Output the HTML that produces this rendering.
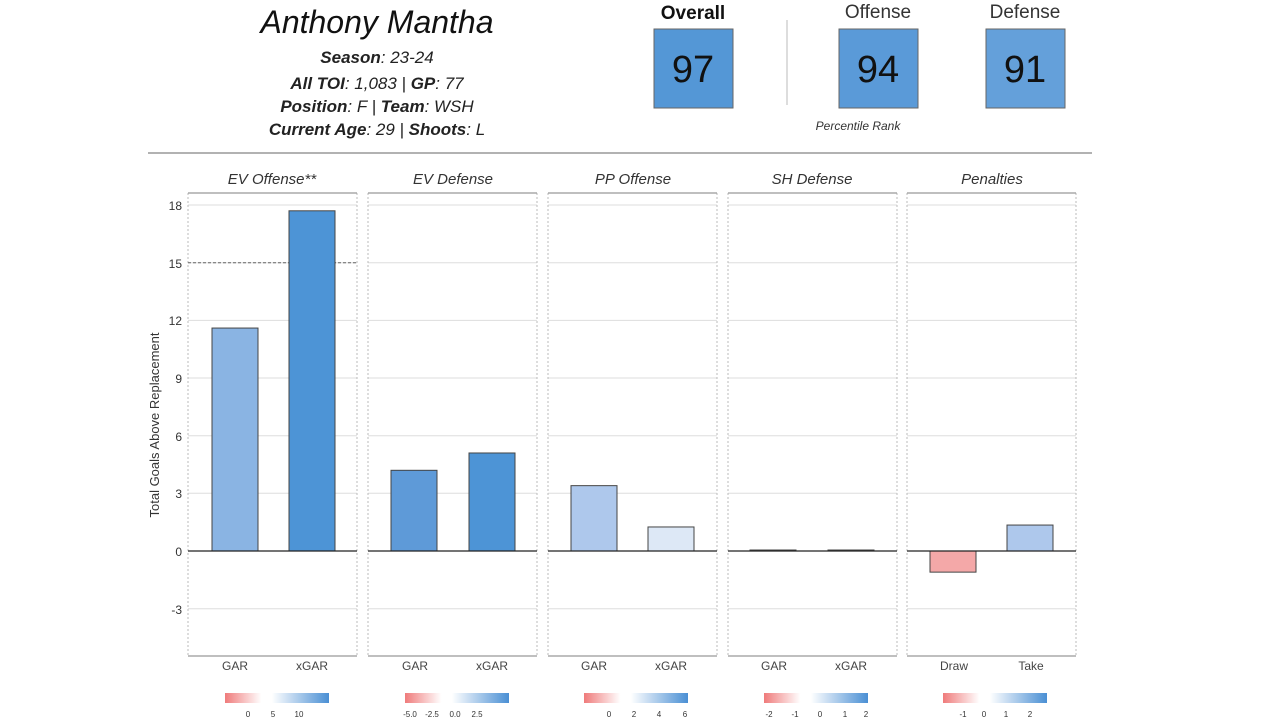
<!DOCTYPE html>
<html><head><meta charset="utf-8"><style>
body{margin:0;background:#fff;width:1280px;height:720px;overflow:hidden;font-family:"Liberation Sans",sans-serif}
</style></head><body>
<svg width="1280" height="720" xmlns="http://www.w3.org/2000/svg" font-family="Liberation Sans, sans-serif">
<defs>
<linearGradient id="g" x1="0" x2="1"><stop offset="0" stop-color="#ef7b7b"/><stop offset="0.35" stop-color="#fff"/><stop offset="0.45" stop-color="#fff"/><stop offset="1" stop-color="#4a8fd4"/></linearGradient>
<g id="pn">
<path d="M0 608.7H169M0 493.3H169M0 435.7H169M0 378H169M0 320.4H169M0 262.7H169M0 205H169" stroke="#ddd" stroke-width="1" fill="none"/>
<path d="M0 193V656M169 193V656" stroke="#bbb" stroke-dasharray="2,2" fill="none"/>
<path d="M0 193H169M0 656H169" stroke="#999" stroke-width="1.2" fill="none"/>
</g>
</defs>
<text x="377" y="33" text-anchor="middle" font-size="32" font-style="italic" fill="#111">Anthony Mantha</text>
<g font-size="17" font-style="italic" text-anchor="middle" fill="#222">
<text x="377" y="63"><tspan font-weight="bold">Season</tspan>: 23-24</text>
<text x="377" y="89"><tspan font-weight="bold">All TOI</tspan>: 1,083 | <tspan font-weight="bold">GP</tspan>: 77</text>
<text x="377" y="112"><tspan font-weight="bold">Position</tspan>: F | <tspan font-weight="bold">Team</tspan>: WSH</text>
<text x="377" y="135"><tspan font-weight="bold">Current Age</tspan>: 29 | <tspan font-weight="bold">Shoots</tspan>: L</text>
</g>
<text x="693" y="19" text-anchor="middle" font-size="19" font-weight="bold" fill="#111">Overall</text>
<text x="878" y="18" text-anchor="middle" font-size="19" fill="#333">Offense</text>
<text x="1025" y="18" text-anchor="middle" font-size="19" fill="#333">Defense</text>
<rect x="654" y="29" width="79" height="79" fill="#5497d6" stroke="#666"/>
<rect x="839" y="29" width="79" height="79" fill="#5a9ad8" stroke="#666"/>
<rect x="986" y="29" width="79" height="79" fill="#64a0da" stroke="#666"/>
<g font-size="38" text-anchor="middle" fill="#111">
<text x="693" y="82">97</text><text x="878" y="82">94</text><text x="1025" y="82">91</text></g>
<line x1="787" y1="20" x2="787" y2="105" stroke="#bbb"/>
<text x="858" y="130" text-anchor="middle" font-size="12" font-style="italic" fill="#333">Percentile Rank</text>
<line x1="148" y1="153" x2="1092" y2="153" stroke="#999" stroke-width="1.5"/>
<text transform="translate(159,425) rotate(-90)" text-anchor="middle" font-size="13" fill="#333">Total Goals Above Replacement</text>
<g font-size="12" fill="#333" text-anchor="end">
<text x="182" y="210">18</text><text x="182" y="268">15</text><text x="182" y="325">12</text><text x="182" y="383">9</text><text x="182" y="441">6</text><text x="182" y="498">3</text><text x="182" y="556">0</text><text x="182" y="614">-3</text></g>

<use href="#pn" x="188"/><use href="#pn" x="368"/><use href="#pn" x="548"/><use href="#pn" x="728"/><use href="#pn" x="907"/>
<line x1="188" x2="357" y1="262.7" y2="262.7" stroke="#666" stroke-dasharray="3,2"/>

<g font-size="15" font-style="italic" fill="#333" text-anchor="middle">
<text x="272" y="184">EV Offense**</text><text x="453" y="184">EV Defense</text><text x="633" y="184">PP Offense</text><text x="812" y="184">SH Defense</text><text x="992" y="184">Penalties</text></g>
<g font-size="12" fill="#444" text-anchor="middle">
<text x="235" y="670">GAR</text><text x="312" y="670">xGAR</text>
<text x="415" y="670">GAR</text><text x="492" y="670">xGAR</text>
<text x="594" y="670">GAR</text><text x="671" y="670">xGAR</text>
<text x="774" y="670">GAR</text><text x="851" y="670">xGAR</text>
<text x="954" y="670">Draw</text><text x="1031" y="670">Take</text></g>

<g stroke="#444" stroke-width="1">
<rect x="212" y="328.05" width="46" height="222.95" fill="#8ab4e3"/>
<rect x="289" y="210.8" width="46" height="340.2" fill="#4d94d6"/>
<rect x="391" y="470.3" width="46" height="80.7" fill="#5e9ad8"/>
<rect x="469" y="452.98" width="46" height="98.02" fill="#4d94d6"/>
<rect x="571" y="485.65" width="46" height="65.35" fill="#aec8ec"/>
<rect x="648" y="526.97" width="46" height="24.03" fill="#dde8f6"/>
<rect x="750" y="550" width="46" height="1" fill="#ccc"/>
<rect x="828" y="550" width="46" height="1" fill="#ccc"/>
<rect x="930" y="551" width="46" height="21.14" fill="#f4a8a8"/>
<rect x="1007" y="525.05" width="46" height="25.95" fill="#aec8ec"/>
</g>
<path d="M188 551H357M368 551H537M548 551H717M728 551H897M907 551H1076" stroke="#222" stroke-width="1.3"/>

<rect x="225" y="693" width="104" height="10" fill="url(#g)"/>
<rect x="405" y="693" width="104" height="10" fill="url(#g)"/>
<rect x="584" y="693" width="104" height="10" fill="url(#g)"/>
<rect x="764" y="693" width="104" height="10" fill="url(#g)"/>
<rect x="943" y="693" width="104" height="10" fill="url(#g)"/>
<g font-size="8" fill="#333" text-anchor="middle">
<text x="248" y="717">0</text><text x="273" y="717">5</text><text x="299" y="717">10</text>
<text x="410" y="717">-5.0</text><text x="432" y="717">-2.5</text><text x="455" y="717">0.0</text><text x="477" y="717">2.5</text>
<text x="609" y="717">0</text><text x="634" y="717">2</text><text x="659" y="717">4</text><text x="685" y="717">6</text>
<text x="769" y="717">-2</text><text x="795" y="717">-1</text><text x="820" y="717">0</text><text x="845" y="717">1</text><text x="866" y="717">2</text>
<text x="963" y="717">-1</text><text x="984" y="717">0</text><text x="1006" y="717">1</text><text x="1030" y="717">2</text>
</g>
</svg>
</body></html>
